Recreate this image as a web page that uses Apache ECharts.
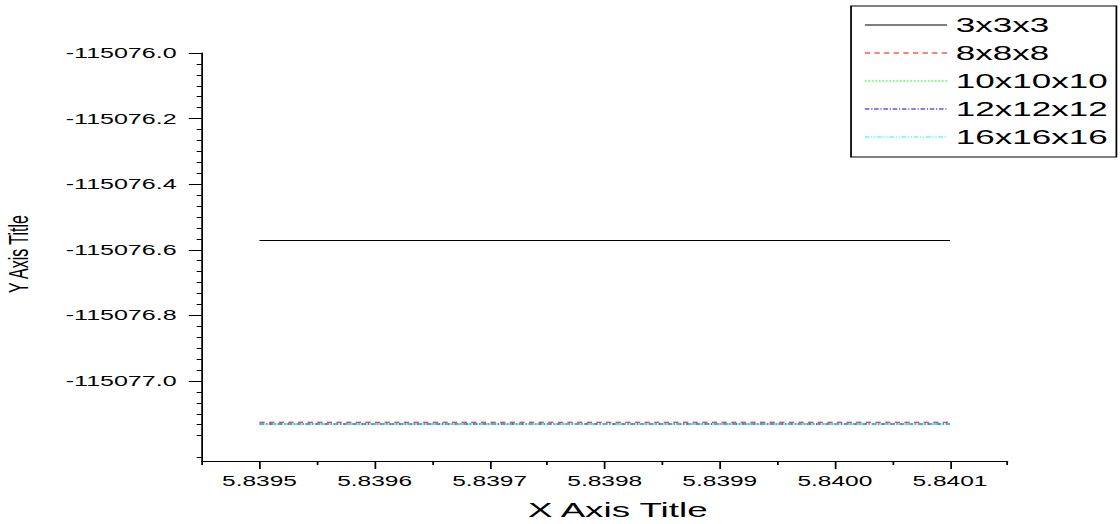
<!DOCTYPE html>
<html>
<head>
<meta charset="utf-8">
<script src="https://cdn.jsdelivr.net/npm/echarts@6/dist/echarts.min.js"></script>
<style>
  html, body { margin: 0; padding: 0; background: #fff; overflow: hidden; }
  #wrap { width: 1120px; height: 524px; overflow: hidden; position: relative; }
  #chart { width: 640px; height: 524px; transform: scaleX(1.75); transform-origin: 0 0; position: absolute; left: 0; top: 0; }
</style>
</head>
<body>
<div id="wrap"><div id="chart"></div></div>
<script>
// ---- data ----
const seriesNames = ['3x3x3', '8x8x8', '10x10x10', '12x12x12', '16x16x16'];
const xValues = [5.8395, 5.8401];
const energy3 = [-115076.572, -115076.572];
const energy8 = [-115077.126, -115077.126];
const energy10 = [-115077.131, -115077.131];
const energy12 = [-115077.131, -115077.131];
const energy16 = [-115077.131, -115077.131];
const xTickLabels = ['5.8395', '5.8396', '5.8397', '5.8398', '5.8399', '5.8400', '5.8401'];
const yTickLabels = ['-115076.0', '-115076.2', '-115076.4', '-115076.6', '-115076.8', '-115077.0'];
const xAxisTitle = 'X Axis Title';
const yAxisTitle = 'Y Axis Title';

// ---- build ----
const FONT = '"Liberation Sans", Arial, sans-serif';
const xMin = 5.83945, xMax = 5.84015;
const yMin = -115077.244, yMax = -115076.0;
const xMajor = xTickLabels.map(parseFloat);
const yMajor = yTickLabels.map(parseFloat);
const xMinor = [];
for (let k = 0; k < xMajor.length + 1; k++) xMinor.push(+(xMin + k * 0.0001).toFixed(5));
const yMinor = [];
for (let k = 1; ; k++) {
  const v = yMax - k * 0.2 / 6;
  if (v < yMin) break;
  if (k % 6 !== 0) yMinor.push(v);
}

const colors = ['#000000', '#ff0000', '#00ff00', '#0000ff', '#00ffff'];
const dashes = ['solid', [3, 2.5], [1, 1], [2.6, 1, 0.7, 1], [2.6, 1, 0.7, 1, 0.7, 1]];
const values = [energy3, energy8, energy10, energy12, energy16];

const series = seriesNames.map((name, i) => ({
  name: name,
  type: 'line',
  xAxisIndex: 0,
  yAxisIndex: 0,
  symbol: 'none',
  showSymbol: false,
  data: xValues.map((x, j) => [x, values[i][j]]),
  lineStyle: { color: colors[i], width: 1, type: dashes[i] },
  itemStyle: { color: colors[i] },
  z: 2 + i
}));

const axisLineStyle = { show: true, lineStyle: { color: '#000', width: 1 } };

const option = {
  animation: false,
  backgroundColor: '#fff',
  grid: { left: 115.4, right: 64.3, top: 53, bottom: 63, containLabel: false },
  xAxis: [
    {
      type: 'value', min: xMin, max: xMax, position: 'bottom',
      axisLine: axisLineStyle,
      axisTick: { show: true, inside: false, length: 8, customValues: xMajor, lineStyle: { color: '#000', width: 1 } },
      axisLabel: { show: true, customValues: xMajor, margin: 13, color: '#000', fontFamily: FONT, fontSize: 14,
        formatter: v => v.toFixed(4) },
      splitLine: { show: false }
    },
    {
      type: 'value', min: xMin, max: xMax, position: 'bottom', gridIndex: 0,
      axisLine: { show: false },
      axisTick: { show: true, inside: false, length: 4, customValues: xMinor, lineStyle: { color: '#000', width: 1 } },
      axisLabel: { show: false },
      splitLine: { show: false }
    }
  ],
  yAxis: [
    {
      type: 'value', min: yMin, max: yMax, position: 'left',
      axisLine: axisLineStyle,
      axisTick: { show: true, inside: false, length: 7.5, customValues: yMajor, lineStyle: { color: '#000', width: 1 } },
      axisLabel: { show: true, customValues: yMajor, margin: 14.5, color: '#000', fontFamily: FONT, fontSize: 14.3,
        formatter: v => v.toFixed(1) },
      splitLine: { show: false }
    },
    {
      type: 'value', min: yMin, max: yMax, position: 'left', gridIndex: 0,
      axisLine: { show: false },
      axisTick: { show: true, inside: false, length: 3, customValues: yMinor, lineStyle: { color: '#000', width: 1 } },
      axisLabel: { show: false },
      splitLine: { show: false }
    }
  ],
  legend: {
    show: true,
    orient: 'vertical',
    left: 486.3,
    top: 6,
    padding: [9, 5, 10, 7.4],
    itemWidth: 47,
    itemHeight: 14,
    itemGap: 8,
    borderColor: '#000',
    borderWidth: 1,
    backgroundColor: '#fff',
    itemStyle: { opacity: 0, borderWidth: 0 },
    lineStyle: { width: 1 },
    textStyle: { color: '#000', fontFamily: FONT, fontSize: 20, lineHeight: 20 },
    data: seriesNames
  },
  graphic: [
    { type: 'text', x: 353, y: 510, style: { text: xAxisTitle, font: '21px ' + FONT, fill: '#000', align: 'center', verticalAlign: 'middle' } },
    { type: 'text', x: 10.3, y: 254, rotation: Math.PI / 2, style: { text: yAxisTitle, font: '16px ' + FONT, fill: '#000', align: 'center', verticalAlign: 'middle' } }
  ],
  series: series
};

const chart = echarts.init(document.getElementById('chart'), null, { renderer: 'svg', width: 640, height: 524 });
chart.setOption(option);
</script>
</body>
</html>
